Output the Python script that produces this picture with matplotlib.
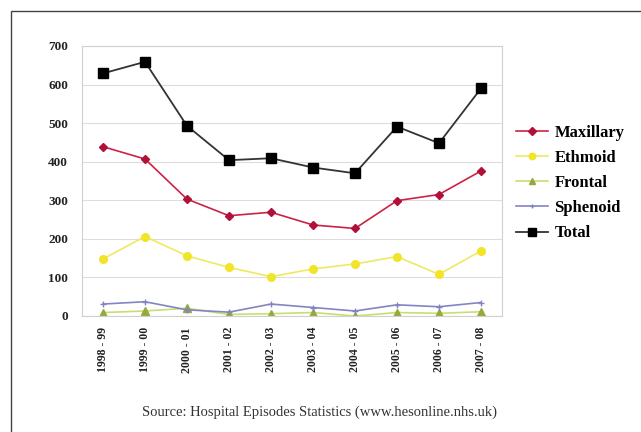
import numpy as np
import matplotlib.pyplot as plt
from matplotlib.patches import Rectangle

plt.rcParams['font.family'] = ['Liberation Serif', 'DejaVu Serif']

years = ["1998 - 99", "1999 - 00", "2000 - 01", "2001 - 02", "2002 - 03",
         "2003 - 04", "2004 - 05", "2005 - 06", "2006 - 07", "2007 - 08"]

maxillary = [439, 407, 303, 260, 269, 236, 227, 299, 315, 376]
ethmoid = [148, 206, 156, 126, 102, 122, 135, 154, 108, 169]
frontal = [9, 13, 20, 4, 6, 9, 0, 9, 7, 11]
sphenoid = [31, 37, 16, 10, 31, 22, 13, 29, 24, 35]
total = [629, 659, 493, 404, 409, 385, 370, 491, 448, 590]

fig = plt.figure(figsize=(6.41, 4.32), dpi=100)
fig.patches.append(Rectangle((11 / 641, -0.1), 1.2, 1 - 11 / 432 + 0.1,
                             transform=fig.transFigure, fill=False,
                             edgecolor='#444444', linewidth=1.0))

ax = fig.add_axes([82 / 641, 1 - 316 / 432, 420 / 641, 270 / 432])
x = np.arange(len(years))

ax.plot(x, maxillary, color='#cc2244', marker='D', markersize=4.5,
        markerfacecolor='#b0103a', markeredgecolor='#b0103a', lw=1.2, label='Maxillary')
ax.plot(x, ethmoid, color='#eeea60', marker='o', markersize=5.5,
        markerfacecolor='#f2e428', markeredgecolor='#f2e428', lw=1.2, label='Ethmoid')
ax.plot(x, frontal, color='#c8de70', marker='^', markersize=5.5,
        markerfacecolor='#94aa3c', markeredgecolor='#94aa3c', lw=1.2, label='Frontal')
ax.plot(x, sphenoid, color='#8484c4', marker='+', markersize=4,
        markeredgecolor='#8484c4', lw=1.2, label='Sphenoid')
ax.plot(x, total, color='#333333', marker='s', markersize=6.5,
        markerfacecolor='black', markeredgecolor='black', lw=1.3, label='Total')

ax.set_xlim(-0.5, len(years) - 0.5)
ax.set_ylim(0, 700)
ax.set_yticks(range(0, 701, 100))
ax.set_xticks(x)
ax.set_xticklabels(years, rotation=90, fontsize=8.5, fontweight='bold')
for lab in ax.get_yticklabels():
    lab.set_fontsize(9.5)
    lab.set_fontweight('bold')
ax.tick_params(axis='both', length=0, colors='#222222')
ax.tick_params(axis='x', pad=8)
ax.tick_params(axis='y', pad=10)
ax.grid(axis='y', color='#dddddd', lw=0.8)
ax.set_axisbelow(True)
for s in ax.spines.values():
    s.set_color('#d0d0d0')
    s.set_linewidth(0.8)

fig.legend(loc='center left', bbox_to_anchor=(516 / 641, 1 - 183 / 432),
           frameon=False, prop={'size': 12, 'weight': 'bold'},
           handlelength=1.9, handletextpad=0.4, labelspacing=0.55,
           markerscale=0.85, borderpad=0, borderaxespad=0)

fig.text(320 / 641, 1 - 412 / 432,
         "Source: Hospital Episodes Statistics (www.hesonline.nhs.uk)",
         ha='center', va='center', fontsize=10.5, color='#333333')

fig.savefig('out.png', dpi=100)
